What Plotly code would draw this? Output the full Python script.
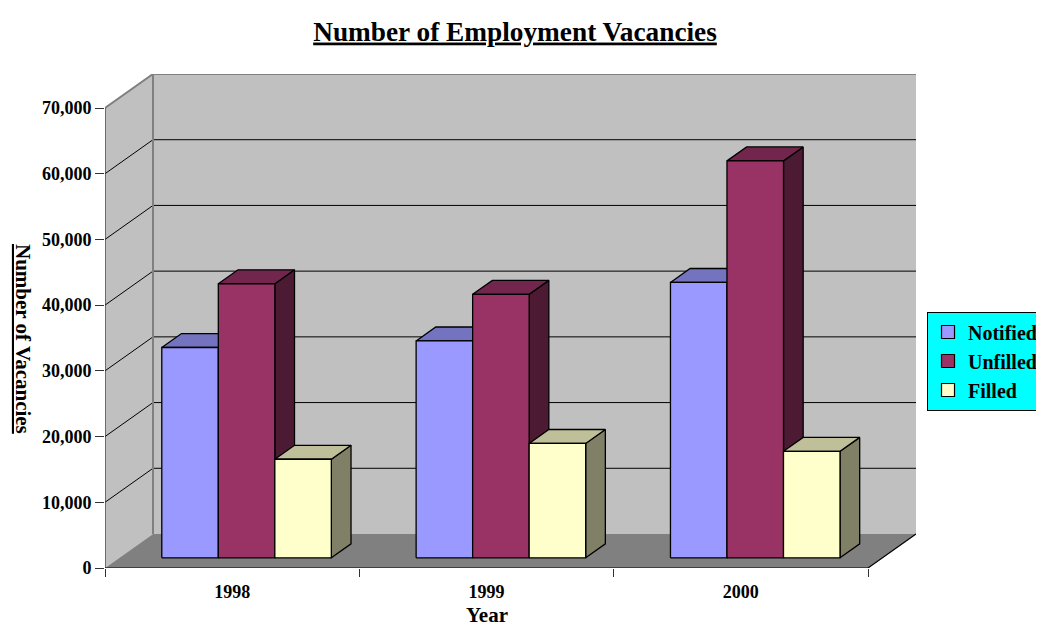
import plotly.graph_objects as go

# ---------------- data ----------------
CATEGORIES = ["1998", "1999", "2000"]
SERIES = ["Notified", "Unfilled", "Filled"]
NOTIFIED = [32000, 33000, 41900]
UNFILLED = [41700, 40100, 60400]
FILLED = [15000, 17400, 16200]
Y_TICKS = [0, 10000, 20000, 30000, 40000, 50000, 60000, 70000]

VALUES = [NOTIFIED, UNFILLED, FILLED]

# ---------------- style ----------------
FRONT = ["#9999FF", "#993366", "#FFFFCC"]
TOP = ["#7373BF", "#73264D", "#BFBF99"]
SIDE = ["#4D4D80", "#4D1A33", "#808066"]
WALL = "#C0C0C0"
FLOOR = "#808080"
FONT = "Liberation Serif, Times New Roman, serif"

PAGE_W, PAGE_H = 1044, 627
OFF = 8                      # default body margin of the html page
W, H = PAGE_W - OFF, PAGE_H - OFF

# plot area in page pixels
P_LEFT, P_TOP, P_BOTTOM = 105, 74, 568
CAT_PX = 254.33              # pixels per category on the front plane
YMAX = Y_TICKS[-1]
PLOT_H = P_BOTTOM - P_TOP
DEPTH_PX_X, DEPTH_PX_Y = 48, 34
DX = DEPTH_PX_X / CAT_PX
DY = DEPTH_PX_Y * YMAX / (PLOT_H - DEPTH_PX_Y)
N = len(CATEGORIES)
XMAX = N + DX
PLOT_W = XMAX * CAT_PX
P_RIGHT = P_LEFT + PLOT_W
F0, F1 = 0.30, 0.71          # bar depth band (fraction of box depth)
BAR_W = 2 / 9                # gap width 150 %
GROUP_OFF = (1 - len(SERIES) * BAR_W) / 2

fig = go.Figure()


def poly(xs, ys, fill, line_color=None, lw=0):
    fig.add_trace(go.Scatter(
        x=xs, y=ys, mode="lines", fill="toself", fillcolor=fill,
        line=dict(color=line_color or fill, width=lw),
        hoverinfo="skip", showlegend=False))


def lines(xs, ys, color, lw):
    fig.add_trace(go.Scatter(
        x=xs, y=ys, mode="lines", line=dict(color=color, width=lw),
        hoverinfo="skip", showlegend=False))


# walls and floor
poly([0, DX, DX, 0, 0], [0, DY, YMAX + DY, YMAX, 0], WALL)
poly([DX, N + DX, N + DX, DX, DX], [DY, DY, YMAX + DY, YMAX + DY, DY], WALL)
poly([0, N, N + DX, DX, 0], [0, 0, DY, DY, 0], FLOOR)

# gridlines
gx, gy = [], []
for v in Y_TICKS[1:-1]:
    gx += [0, DX, N + DX, None]
    gy += [v, v + DY, v + DY, None]
lines(gx, gy, "#000000", 1)

# wall edges
lines([0, DX, N + DX, None, DX, DX],
      [YMAX, YMAX + DY, YMAX + DY, None, DY, YMAX + DY], "#808080", 2)
# floor front edges
lines([0, N, N + DX], [0, 0, DY], "#000000", 1.2)
# front value axis line
lines([0, 0], [0, YMAX], "#333333", 1.2)

# bars (oblique 3-D boxes)
ddx, ddy = (F1 - F0) * DX, (F1 - F0) * DY
for j, name in enumerate(SERIES):
    fx, fy, tx, ty, sx, sy = [], [], [], [], [], []
    for i, v in enumerate(VALUES[j]):
        xl = i + GROUP_OFF + j * BAR_W + F0 * DX
        xr = xl + BAR_W
        yb = F0 * DY
        yt = v + F0 * DY
        fx += [xl, xr, xr, xl, xl, None]
        fy += [yb, yb, yt, yt, yb, None]
        tx += [xl, xr, xr + ddx, xl + ddx, xl, None]
        ty += [yt, yt, yt + ddy, yt + ddy, yt, None]
        sx += [xr, xr + ddx, xr + ddx, xr, xr, None]
        sy += [yb, yb + ddy, yt + ddy, yt, yb, None]
    poly(sx, sy, SIDE[j], "#000000", 1.3)
    poly(tx, ty, TOP[j], "#000000", 1.3)
    poly(fx, fy, FRONT[j], "#000000", 1.3)

# legend entries
for j, name in enumerate(SERIES):
    fig.add_trace(go.Scatter(
        x=[None], y=[None], mode="markers", name=name,
        marker=dict(symbol="square", size=13, color=FRONT[j],
                    line=dict(color="#000000", width=1.2)),
        showlegend=True))

tick_font = dict(family=FONT, size=18, color="#000000", weight="bold")
title_font = dict(family=FONT, size=21, color="#000000", weight="bold")


def px_to_paper_x(px):
    return (px - P_LEFT) / PLOT_W


def px_to_paper_y(py):
    return (P_BOTTOM - py) / PLOT_H


fig.update_layout(
    width=W, height=H,
    paper_bgcolor="white", plot_bgcolor="white",
    margin=dict(l=P_LEFT - OFF, r=W - (P_RIGHT - OFF), t=P_TOP - OFF,
                b=H - (P_BOTTOM - OFF), autoexpand=False),
    title=dict(text="<u>Number of Employment Vacancies</u>",
               font=dict(family=FONT, size=27.3, color="#000000", weight="bold"),
               x=(515 - OFF) / W, xref="container", xanchor="center",
               y=1 - (31 - OFF) / H, yref="container", yanchor="middle"),
    xaxis=dict(range=[0, XMAX], tickvals=[i + 0.5 for i in range(N)],
               ticktext=CATEGORIES, ticks="", showgrid=False, zeroline=False,
               showline=False, tickfont=tick_font, ticklabelstandoff=11,
               minor=dict(tickvals=list(range(N + 1)), ticks="outside",
                          ticklen=8, tickcolor="#333333", tickwidth=1,
                          showgrid=False),
               automargin=False, fixedrange=True),
    yaxis=dict(range=[0, YMAX + DY], tickvals=Y_TICKS, tickformat=",d",
               ticks="outside", ticklen=9, tickcolor="#333333", tickwidth=1,
               showgrid=False, zeroline=False, showline=False,
               tickfont=tick_font, automargin=False, fixedrange=True),
    legend=dict(x=px_to_paper_x(927), xanchor="left",
                y=px_to_paper_y(361), yanchor="middle",
                bgcolor="#00FFFF", bordercolor="#000000", borderwidth=1,
                font=dict(family=FONT, size=20, color="#000000", weight="bold")),
    annotations=[
        dict(text="Year", x=N / 2, xref="x", y=px_to_paper_y(615),
             yref="paper", showarrow=False, xanchor="center",
             yanchor="middle", font=title_font),
        dict(text="<u>Number of Vacancies</u>", textangle=90,
             x=px_to_paper_x(23), xref="paper", y=px_to_paper_y(339),
             yref="paper", showarrow=False, xanchor="center",
             yanchor="middle", font=title_font),
    ],
)

fig.write_html("out.html")
